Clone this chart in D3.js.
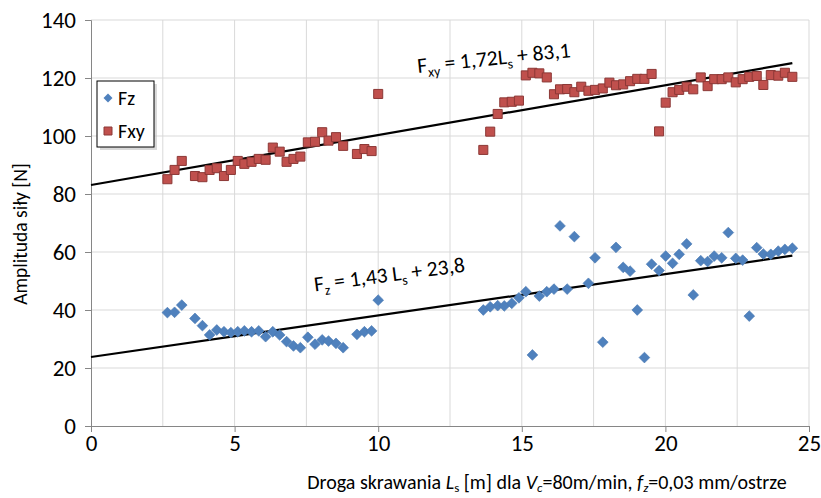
<!DOCTYPE html>
<html>
<head>
<meta charset="utf-8">
<script src="https://cdn.jsdelivr.net/npm/d3@7"></script>
<style>
  body { margin: 0; background: #fff; }
  svg { display: block; font-family: Carlito, Calibri, Lato, sans-serif; }
</style>
</head>
<body>
<div id="chart"></div>
<script>
// droga skrawania Ls [m]
var drogaLs = [2.66, 2.91, 3.16, 3.62, 3.88, 4.13, 4.38, 4.63, 4.87, 5.11, 5.34, 5.59, 5.84, 6.08,
  6.33, 6.57, 6.81, 7.05, 7.29, 7.55, 7.80, 8.05, 8.27, 8.53, 8.78, 9.26, 9.52, 9.77, 10.0,
  13.66, 13.90, 14.16, 14.39, 14.65, 14.90, 15.14, 15.37, 15.61, 15.87, 16.12, 16.33, 16.58, 16.83,
  17.07, 17.32, 17.55, 17.82, 18.05, 18.28, 18.53, 18.77, 19.02, 19.27, 19.52, 19.78, 20.01, 20.25,
  20.48, 20.74, 20.97, 21.23, 21.47, 21.70, 21.96, 22.19, 22.45, 22.69, 22.92, 23.18, 23.41, 23.67,
  23.93, 24.16, 24.42];

var fxy = [85.1, 88.3, 91.4, 86.2, 85.8, 88.3, 88.9, 86.2, 88.3, 91.4, 90.4, 91.1, 92.1, 91.8,
  96.0, 94.6, 91.1, 92.1, 92.9, 97.8, 98.0, 101.3, 98.4, 99.6, 96.6, 93.8, 95.5, 94.8, 114.5,
  95.2, 101.5, 107.6, 111.6, 111.8, 112.2, 120.9, 121.8, 121.6, 120.2, 114.4, 116.1, 116.2, 115.1,
  117.0, 115.6, 115.9, 116.4, 118.4, 117.5, 117.8, 118.9, 119.7, 119.7, 121.4, 101.6, 111.5, 115.1,
  115.9, 117.0, 116.1, 120.2, 117.2, 119.6, 119.6, 120.2, 118.5, 119.6, 120.4, 120.7, 117.6, 121.0,
  120.8, 121.8, 120.4];

var fz = [39.1, 39.2, 41.7, 37.1, 34.6, 31.4, 33.1, 32.5, 32.2, 32.5, 32.8, 32.5, 32.8, 30.8,
  32.5, 31.4, 29.1, 27.6, 27.0, 30.6, 28.2, 29.7, 29.3, 28.5, 27.0, 31.6, 32.5, 32.8, 43.4,
  40.0, 41.1, 41.5, 41.4, 42.3, 44.2, 46.3, 24.5, 44.8, 46.3, 47.2, 69.0, 47.2, 65.3,
  null, 49.2, 58.0, 28.9, null, 61.6, 54.7, 53.4, 40.0, 23.6, 55.8, 53.6, 58.6, 56.1,
  59.2, 62.8, 45.2, 57.0, 56.7, 58.6, 58.0, 66.7, 57.8, 57.2, 37.9, 61.5, 59.3, 59.2,
  60.3, 60.9, 61.3];

// linie trendu: F = a*Ls + b
var trendFxy = [1.72, 83.1];
var trendFz = [1.43, 23.8];

var xTicks = [0, 5, 10, 15, 20, 25];
var yTicks = [0, 20, 40, 60, 80, 100, 120, 140];
var seriesNames = ["Fz", "Fxy"];

var width = 821, height = 498;
var svg = d3.select("#chart").append("svg")
  .attr("width", width)
  .attr("height", height);

var x = d3.scaleLinear().domain([0, 25]).range([91, 809]);
var y = d3.scaleLinear().domain([0, 140]).range([426, 20]);

// siatka
svg.append("g").selectAll("line")
  .data(yTicks.slice(1))
  .enter().append("line")
  .attr("x1", x(0)).attr("x2", x(25))
  .attr("y1", function (d) { return y(d); })
  .attr("y2", function (d) { return y(d); })
  .attr("stroke", "#d9d9d9").attr("stroke-width", 1);

svg.append("g").selectAll("line")
  .data(d3.range(2.5, 25.1, 2.5))
  .enter().append("line")
  .attr("x1", function (d) { return x(d); })
  .attr("x2", function (d) { return x(d); })
  .attr("y1", y(0)).attr("y2", y(140))
  .attr("stroke", "#d9d9d9").attr("stroke-width", 1);

// osie
var xAxis = d3.axisBottom(x).tickValues(xTicks).tickSize(6).tickPadding(3);
var yAxis = d3.axisLeft(y).tickValues(yTicks).tickSize(6).tickPadding(9);

var gx = svg.append("g")
  .attr("transform", "translate(0," + y(0) + ")")
  .call(xAxis);
var gy = svg.append("g")
  .attr("transform", "translate(" + x(0) + ",0)")
  .call(yAxis);

[gx, gy].forEach(function (g) {
  g.select(".domain").attr("stroke", "#868686");
  g.selectAll(".tick line").attr("stroke", "#868686");
  g.selectAll("text")
    .attr("font-family", "Carlito, Calibri, Lato, sans-serif")
    .attr("font-size", 23)
    .attr("fill", "#000");
});

// linie trendu
var trendLine = d3.line()
  .x(function (d) { return x(d[0]); })
  .y(function (d) { return y(d[1]); });
var xEnd = d3.max(drogaLs);
[trendFxy, trendFz].forEach(function (t) {
  svg.append("path")
    .attr("d", trendLine([[0, t[1]], [xEnd, t[0] * xEnd + t[1]]]))
    .attr("fill", "none")
    .attr("stroke", "#000")
    .attr("stroke-width", 2.2);
});

// punkty Fz (romby)
var diamond = d3.symbol().type(d3.symbolSquare).size(58);
svg.append("g").selectAll("path")
  .data(drogaLs.map(function (d, i) { return [d, fz[i]]; }).filter(function (d) { return d[1] != null; }))
  .enter().append("path")
  .attr("d", diamond)
  .attr("transform", function (d) { return "translate(" + x(d[0]) + "," + y(d[1]) + ") rotate(45)"; })
  .attr("fill", "#4f81bd")
  .attr("stroke", "#4a7ab3")
  .attr("stroke-width", 0.6);

// punkty Fxy (kwadraty)
var square = d3.symbol().type(d3.symbolSquare).size(82);
svg.append("g").selectAll("path")
  .data(drogaLs.map(function (d, i) { return [d, fxy[i]]; }).filter(function (d) { return d[1] != null; }))
  .enter().append("path")
  .attr("d", square)
  .attr("transform", function (d) { return "translate(" + x(d[0]) + "," + y(d[1]) + ")"; })
  .attr("fill", "#c0504d")
  .attr("stroke", "#8c3836")
  .attr("stroke-width", 1);

// opisy rownan
function equation(px, py, angle, parts) {
  var t = svg.append("text")
    .attr("transform", "translate(" + x(px) + "," + y(py) + ") rotate(" + angle + ")")
    .attr("font-size", 21.5)
    .attr("fill", "#000");
  parts.forEach(function (p) {
    if (p.sub) {
      t.append("tspan").attr("font-size", 14).attr("dy", 5).text(p.text);
    } else {
      t.append("tspan").attr("dy", p.after ? -5 : 0).text(p.text);
    }
  });
}
equation(11.39, 121.7, -6, [
  {text: "F"}, {text: "xy", sub: true}, {text: " = 1,72L", after: true},
  {text: "s", sub: true}, {text: " + 83,1", after: true}
]);
equation(7.8, 46.4, -7.5, [
  {text: "F"}, {text: "z", sub: true}, {text: " = 1,43 L", after: true},
  {text: "s", sub: true}, {text: " + 23,8", after: true}
]);

// tytuly osi
var xt = svg.append("text")
  .attr("x", 547)
  .attr("y", 489)
  .attr("text-anchor", "middle")
  .attr("font-size", 20)
  .attr("fill", "#000");
xt.append("tspan").text("Droga skrawania ");
xt.append("tspan").attr("font-style", "italic").text("L");
xt.append("tspan").attr("font-size", 13).attr("dy", 3).text("s");
xt.append("tspan").attr("dy", -3).text(" [m] dla ");
xt.append("tspan").attr("font-style", "italic").text("V");
xt.append("tspan").attr("font-size", 13).attr("font-style", "italic").attr("dy", 3).text("c");
xt.append("tspan").attr("dy", -3).text("=80m/min, ");
xt.append("tspan").attr("font-style", "italic").text("f");
xt.append("tspan").attr("font-size", 13).attr("font-style", "italic").attr("dy", 3).text("z");
xt.append("tspan").attr("dy", -3).text("=0,03 mm/ostrze");

svg.append("text")
  .attr("transform", "translate(27,234) rotate(-90)")
  .attr("text-anchor", "middle")
  .attr("font-size", 19.5)
  .attr("fill", "#000")
  .text("Amplituda siły [N]");

// legenda
var legend = svg.append("g").attr("transform", "translate(97,81)");
legend.append("rect")
  .attr("x", 3).attr("y", 3)
  .attr("width", 57).attr("height", 66)
  .attr("fill", "#bfbfbf").attr("opacity", 0.6);
legend.append("rect")
  .attr("width", 57).attr("height", 66)
  .attr("fill", "#fff").attr("stroke", "#000").attr("stroke-width", 1);
legend.append("path")
  .attr("d", d3.symbol().type(d3.symbolSquare).size(40))
  .attr("transform", "translate(11,17) rotate(45)")
  .attr("fill", "#4f81bd");
legend.append("path")
  .attr("d", d3.symbol().type(d3.symbolSquare).size(64))
  .attr("transform", "translate(11,50)")
  .attr("fill", "#c0504d").attr("stroke", "#8c3836");
legend.selectAll("text.lbl")
  .data(seriesNames)
  .enter().append("text")
  .attr("class", "lbl")
  .attr("x", 21)
  .attr("y", function (d, i) { return 24 + i * 33; })
  .attr("font-size", 20)
  .attr("fill", "#000")
  .text(function (d) { return d; });
</script>
</body>
</html>
